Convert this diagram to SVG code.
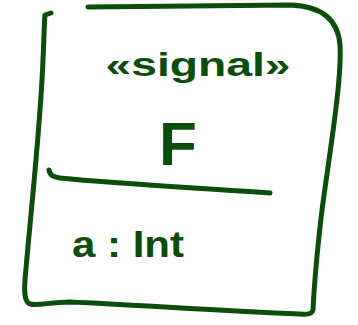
<svg xmlns="http://www.w3.org/2000/svg" width="358" height="325" viewBox="0 0 358 325">
<style>
.s{fill:none;stroke:#0b4d0b;stroke-width:5;stroke-linecap:round;stroke-linejoin:round}
.t{fill:#0b4d0b;font-family:"Liberation Sans",sans-serif;font-weight:bold}
</style>
<rect width="358" height="325" fill="#fff"/>
<g id="class-F">
<path class="s" d="M88,7 L290,5 C320,6 338,18 340,45 C342,80 330,150 322,210 C316,260 314,290 313,310 C312,314 308,315 300,314 C220,311 140,305 70,302 C50,302 38,306 30,304 C25,302 24,294 25,280 C30,220 38,150 42,80 C44,45 44,25 45,15 L51,13"/>
<path class="s" d="M49,170 C50,176 54,177 60,178 C120,184 200,188 270,193"/>
<text class="t" x="198" y="76" font-size="34" text-anchor="middle" textLength="185" lengthAdjust="spacingAndGlyphs">«signal»</text>
<text class="t" x="178" y="165" font-size="62" text-anchor="middle">F</text>
<text class="t" x="72" y="257" font-size="36" textLength="112" lengthAdjust="spacingAndGlyphs">a : Int</text>
</g>
</svg>
